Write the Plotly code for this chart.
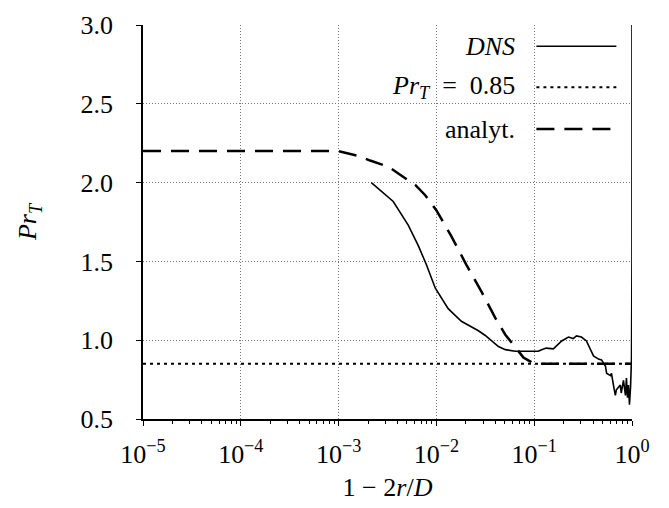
import plotly.graph_objects as go

# ---- data ----
dns_x = [2.16e-3, 3.62e-3, 5.15e-3, 6.53e-3, 7.89e-3, 9.75e-3, 1.32e-2, 1.80e-2,
         2.69e-2, 3.16e-2, 4.31e-2, 5.07e-2, 6.43e-2, 9.35e-2, 0.110, 0.119, 0.133,
         0.157, 0.191, 0.224, 0.251, 0.270, 0.304, 0.342, 0.376, 0.404, 0.454, 0.488,
         0.536, 0.550, 0.603, 0.617, 0.646, 0.676, 0.692, 0.724, 0.759, 0.776, 0.818,
         0.857, 0.877, 0.899, 0.920, 0.942, 0.966, 0.989, 0.999, 1.0]
dns_y = [2.00, 1.88, 1.73, 1.60, 1.48, 1.33, 1.20, 1.12,
         1.06, 1.03, 0.96, 0.94, 0.93, 0.93, 0.93, 0.94, 0.95,
         0.945, 0.995, 1.02, 1.01, 1.027, 1.02, 0.995, 0.94, 0.90, 0.88, 0.875,
         0.835, 0.79, 0.775, 0.79, 0.715, 0.65, 0.685, 0.70, 0.715, 0.665, 0.745,
         0.65, 0.76, 0.635, 0.715, 0.59, 0.70, 0.89, 1.5, 3.0]

prt_x = [1e-5, 1.0]
prt_y = [0.85, 0.85]

ana_x = [1e-5, 1e-3, 1.58e-3, 2.1e-3, 3.24e-3, 4.07e-3, 6.08e-3, 7.69e-3, 9.98e-3,
         1.42e-2, 2.02e-2, 2.88e-2, 4.01e-2, 5.07e-2, 7.76e-2, 0.1, 1.0]
ana_y = [2.2, 2.2, 2.17, 2.14, 2.10, 2.06, 1.985, 1.92, 1.825,
         1.66, 1.48, 1.31, 1.14, 1.035, 0.89, 0.85, 0.85]

x_tickvals = [1e-5, 1e-4, 1e-3, 1e-2, 1e-1, 1e0]
x_ticktext = ["10<sup>−5</sup>", "10<sup>−4</sup>", "10<sup>−3</sup>",
              "10<sup>−2</sup>", "10<sup>−1</sup>", "10<sup>0</sup>"]
y_tickvals = [0.5, 1.0, 1.5, 2.0, 2.5, 3.0]

legend_labels = ["<i>DNS</i>",
                 "<i>Pr</i><sub><i>T</i></sub>\u2002=\u20020.85",
                 "analyt."]

FONT = "Liberation Serif"
FS = 26
DASH_ANA = "18px,10px"
DASH_DOT = "3px,4px"

minor_vals = [m * 10.0 ** e for e in range(-5, 0) for m in range(2, 10)]

fig = go.Figure()
fig.add_trace(go.Scatter(x=prt_x, y=prt_y, mode="lines",
                         line=dict(color="black", width=2, dash=DASH_DOT),
                         showlegend=False))
fig.add_trace(go.Scatter(x=ana_x, y=ana_y, mode="lines",
                         line=dict(color="black", width=2.5, dash=DASH_ANA),
                         showlegend=False))
fig.add_trace(go.Scatter(x=dns_x, y=dns_y, mode="lines",
                         line=dict(color="black", width=1.6),
                         showlegend=False))

# manual legend (text on left, sample on right)
rows_y = [0.946, 0.842, 0.736]
dashes = ["solid", DASH_DOT, DASH_ANA]
widths = [1.6, 2, 2.5]
for lab, yy, d, w in zip(legend_labels, rows_y, dashes, widths):
    fig.add_annotation(x=0.764, y=yy, xref="paper", yref="paper", text=lab,
                       showarrow=False, xanchor="right", yanchor="middle",
                       font=dict(family=FONT, size=FS, color="black"))
    fig.add_shape(type="line", xref="paper", yref="paper",
                  x0=0.8045, x1=0.968, y0=yy, y1=yy,
                  line=dict(color="black", width=w, dash=d))

fig.update_layout(
    width=669, height=508,
    margin=dict(l=135, r=45, t=17, b=97),
    plot_bgcolor="white", paper_bgcolor="white",
    font=dict(family=FONT, size=FS, color="black"),
    showlegend=False,
)
fig.update_xaxes(
    type="log", range=[-5, 0], automargin=False,
    tickvals=x_tickvals, ticktext=x_ticktext,
    ticks="outside", ticklen=5, tickwidth=1.2, tickcolor="black",
    ticklabelstandoff=6,
    showline=True, linecolor="black", linewidth=1.5,
    showgrid=True, gridcolor="#777", gridwidth=1, griddash="1px,2px",
    zeroline=False,
    minor=dict(tickvals=minor_vals, ticks="outside", ticklen=3,
               tickcolor="black", tickwidth=1, showgrid=False),
    title=dict(text="1 − 2<i>r</i>/<i>D</i>", standoff=10,
               font=dict(family=FONT, size=FS)),
    tickfont=dict(family=FONT, size=FS),
)
fig.update_yaxes(
    range=[0.5, 3.0], tickvals=y_tickvals, tickformat=".1f", automargin=False,
    ticks="outside", ticklen=5, tickwidth=1.2, tickcolor="black",
    ticklabelstandoff=18,
    showline=True, linecolor="black", linewidth=1.5,
    showgrid=True, gridcolor="#777", gridwidth=1, griddash="1px,2px",
    zeroline=False,
    title=dict(text="<i>Pr</i><sub><i>T</i></sub>", standoff=36,
               font=dict(family=FONT, size=FS)),
    tickfont=dict(family=FONT, size=FS),
)

fig.write_html("out.html")
